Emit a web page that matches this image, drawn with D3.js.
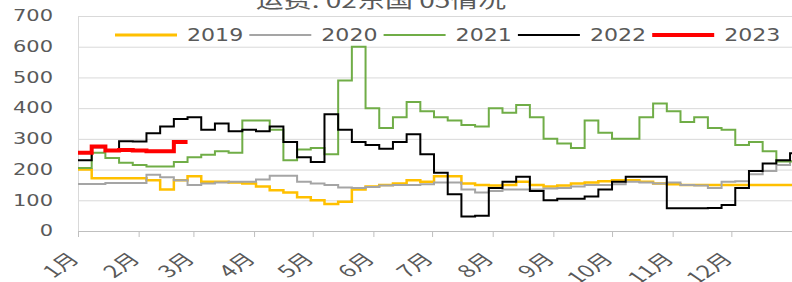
<!DOCTYPE html>
<html>
<head>
<meta charset="utf-8">
<script src="https://cdn.jsdelivr.net/npm/d3@7"></script>
<style>
  body { margin: 0; background: #fff; }
  svg { display: block; }
</style>
</head>
<body>
<div id="chart"></div>
<script>
  // weekly values, week i starts on day i*7 of the year
  var months = ['1月', '2月', '3月', '4月', '5月', '6月', '7月', '8月', '9月', '10月', '11月', '12月'];
  var monthStart = [0, 31, 59, 90, 120, 151, 181, 212, 243, 273, 304, 334];
  var yTicks = [0, 100, 200, 300, 400, 500, 600, 700];
  var years = ['2019', '2020', '2021', '2022', '2023'];

  var v2019 = [200, 172, 172, 172, 172, 165, 135, 165, 178, 160, 160, 158, 155, 145, 133, 125, 110, 100, 88, 95,
    135, 145, 150, 155, 165, 160, 178, 178, 155, 150, 148, 150, 160, 150, 145, 148, 155, 158, 162, 165,
    165, 160, 155, 152, 150, 150, 150, 150, 150, 150, 150, 150, 150];
  var v2020 = [153, 153, 156, 156, 156, 183, 175, 165, 150, 155, 158, 160, 160, 168, 180, 180, 160, 155, 150, 142,
    140, 143, 148, 150, 150, 152, 158, 158, 135, 125, 130, 135, 135, 135, 138, 140, 145, 150, 150, 152,
    160, 158, 155, 158, 150, 148, 140, 160, 162, 185, 195, 215, 228];
  var v2021 = [205, 255, 238, 222, 215, 210, 210, 225, 240, 248, 260, 255, 360, 360, 330, 230, 265, 270, 250, 490,
    600, 400, 335, 370, 420, 390, 370, 360, 345, 340, 400, 385, 410, 370, 300, 285, 270, 360, 320, 300,
    300, 370, 415, 390, 355, 370, 335, 330, 280, 290, 260, 226, 226];
  var v2022 = [230, 273, 262, 292, 291, 318, 340, 365, 370, 330, 350, 325, 330, 325, 340, 290, 240, 225, 380, 330,
    290, 280, 268, 290, 315, 250, 190, 120, 47, 50, 140, 160, 177, 130, 100, 105, 105, 112, 135, 160,
    177, 177, 177, 74, 74, 74, 75, 85, 140, 195, 220, 230, 253];
  var v2023 = [255, 275, 262, 264, 262, 260, 260, 290];

  var series = [v2019, v2020, v2021, v2022, v2023];
  var colors = ['#FFC000', '#A5A5A5', '#70AD47', '#000000', '#FF0000'];
  var strokes = [2.5, 2, 2, 2, 4];

  var stretch = 1.45; // the original picture is stretched sideways

  var svg = d3.select('#chart')
    .append('svg')
    .attr('width', 792)
    .attr('height', 282);

  var x = d3.scaleLinear().domain([0, 365]).range([78, 792]);
  var y = d3.scaleLinear().domain([0, 700]).range([231, 16]);

  // title, cut off at the top of the picture
  svg.append('text')
    .attr('transform', 'translate(381,8) scale(1.4,1)')
    .attr('text-anchor', 'middle')
    .style('font-family', '"Noto Sans CJK SC", sans-serif')
    .style('font-size', '20px')
    .style('fill', '#595959')
    .text('运费: 02东国 05情况');

  // gridlines
  svg.append('g')
    .attr('transform', 'translate(78,0)')
    .call(d3.axisLeft(y).tickValues(yTicks).tickSize(-714).tickFormat(''))
    .call(function(g) { g.select('.domain').remove(); })
    .selectAll('line')
    .attr('stroke', '#d9d9d9');

  // y labels
  svg.append('g')
    .attr('class', 'y-axis')
    .attr('transform', 'translate(78,0)')
    .call(d3.axisLeft(y).tickValues(yTicks).tickSize(0))
    .call(function(g) { g.select('.domain').attr('stroke', '#d9d9d9'); })
    .selectAll('text')
    .attr('x', -25 / 1.4)
    .attr('transform', 'scale(1.4,1)')
    .style('font-family', '"DejaVu Sans", sans-serif')
    .style('font-size', '15px')
    .style('fill', '#595959');

  // x axis
  var xAxis = svg.append('g')
    .attr('class', 'x-axis')
    .attr('transform', 'translate(0,231)')
    .call(d3.axisBottom(x).tickValues(monthStart).tickSize(6).tickSizeOuter(0)
      .tickFormat(function(d, i) { return months[i]; }));
  xAxis.select('.domain').attr('stroke', '#bfbfbf');
  xAxis.selectAll('line').attr('stroke', '#bfbfbf');
  xAxis.selectAll('text')
    .attr('x', 0)
    .attr('y', 0)
    .attr('dy', 0)
    .attr('transform', 'translate(2,29) scale(' + stretch + ',1) rotate(-45)')
    .style('text-anchor', 'end')
    .style('font-family', '"Noto Sans CJK SC", sans-serif')
    .style('font-size', '17px')
    .style('fill', '#595959');

  svg.append('clipPath')
    .attr('id', 'plot-clip')
    .append('rect')
    .attr('x', 78)
    .attr('y', 0)
    .attr('width', 714)
    .attr('height', 240);

  var line = d3.line()
    .x(function(d) { return x(d.day); })
    .y(function(d) { return y(d.v); })
    .curve(d3.curveStepAfter);

  function toSteps(vals) {
    var pts = vals.map(function(v, i) { return { day: i * 7, v: v }; });
    pts.push({ day: vals.length * 7, v: vals[vals.length - 1] }); // close last week
    return pts;
  }

  svg.append('g')
    .attr('clip-path', 'url(#plot-clip)')
    .selectAll('.series')
    .data(series)
    .enter().append('path')
    .attr('class', 'series')
    .attr('fill', 'none')
    .attr('stroke', function(d, i) { return colors[i]; })
    .attr('stroke-width', function(d, i) { return strokes[i]; })
    .attr('d', function(d) { return line(toSteps(d)); });

  // legend
  var legend = svg.selectAll('.legend')
    .data(years)
    .enter().append('g')
    .attr('class', 'legend')
    .attr('transform', function(d, i) { return 'translate(' + (115 + i * 134.3) + ',35)'; });

  legend.append('line')
    .attr('x1', 0)
    .attr('x2', 62)
    .attr('stroke', function(d, i) { return colors[i]; })
    .attr('stroke-width', function(d, i) { return i == 4 ? 4 : (i == 0 ? 3 : 2); });

  legend.append('text')
    .attr('transform', 'translate(72,6) scale(1.3,1)')
    .style('font-family', '"DejaVu Sans", sans-serif')
    .style('font-size', '17px')
    .style('fill', '#595959')
    .text(function(d) { return d; });
</script>
</body>
</html>
